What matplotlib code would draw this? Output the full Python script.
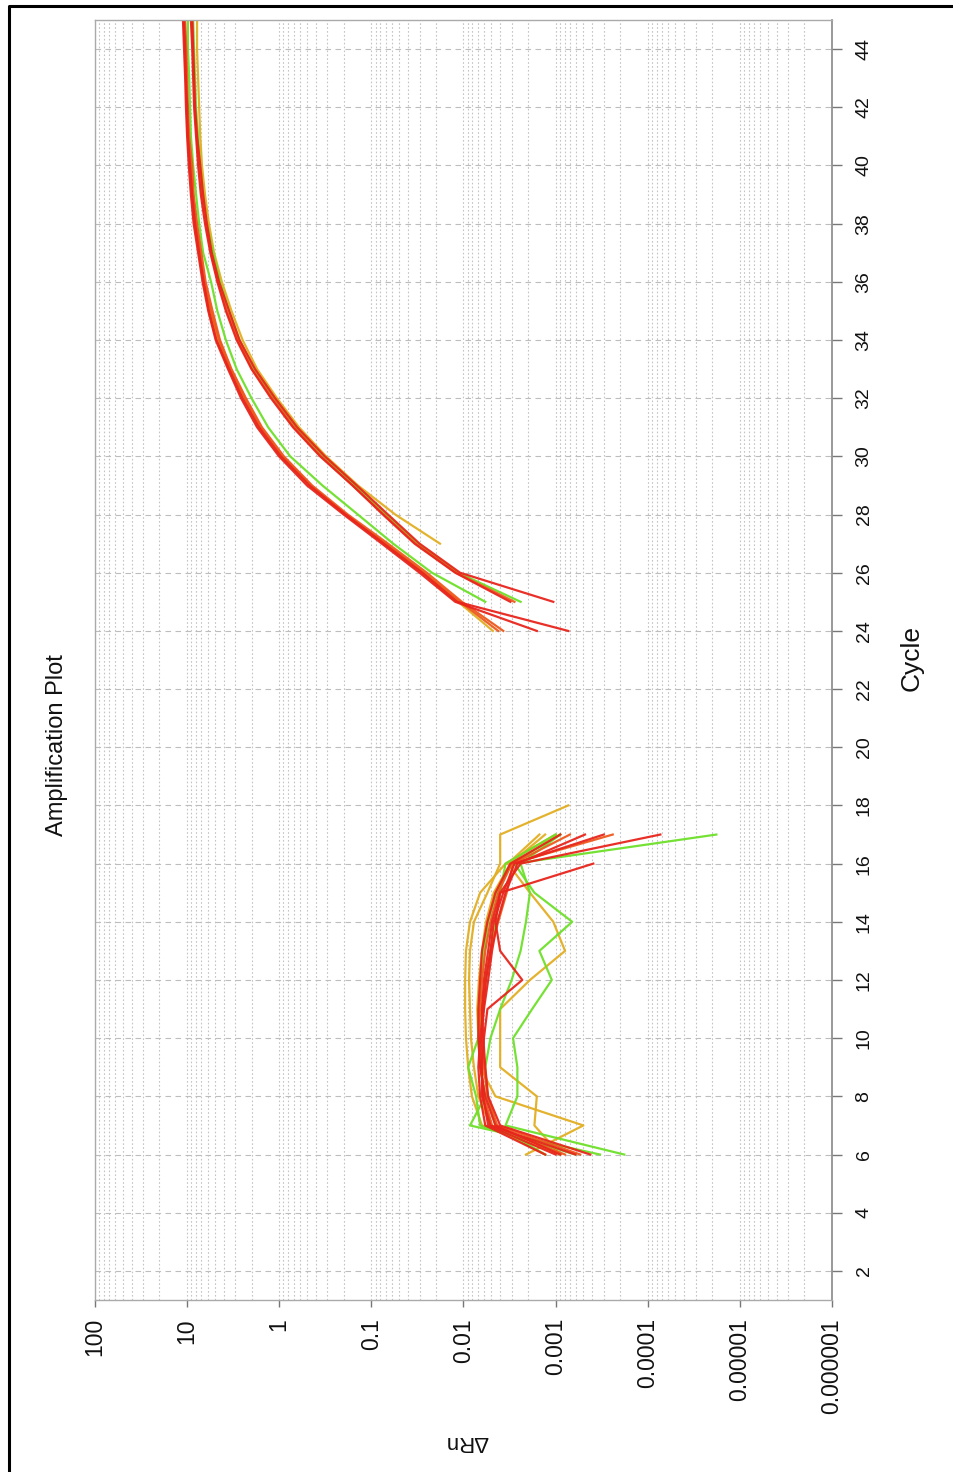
import matplotlib
matplotlib.use('Agg')
import matplotlib.pyplot as plt
from matplotlib.lines import Line2D
from matplotlib.ticker import FixedLocator, LogLocator, NullFormatter

# chart is drawn turned a quarter turn: cycle runs up the page, dRn runs right-to-left
FONT = ['Liberation Sans', 'DejaVu Sans']

YELLOW = '#e2ae22'
GREEN = '#6ee02a'
RED = '#e8251c'
ORANGE = '#ee5a1e'

# ---- early (background noise) curves, cycles 6..17 ----
early_cycles = list(range(6, 18))
early_cycles_18 = list(range(6, 19))
early_cycles_16 = list(range(6, 17))

early_yellow_1 = [0.00089, 0.0063, 0.0081, 0.0089, 0.0094, 0.0096, 0.0096, 0.0094, 0.0085, 0.0066, 0.0035, 0.0010]
early_yellow_2 = [0.0013, 0.0051, 0.0069, 0.0077, 0.0083, 0.0085, 0.0087, 0.0085, 0.0077, 0.0055, 0.0040, 0.0040, 0.00073]
early_yellow_3 = [0.00089, 0.0017, 0.0016, 0.0040, 0.0040, 0.0040, 0.0019, 0.00079, 0.00106, 0.0019, 0.0033, 0.0015]
early_yellow_4 = [0.0021, 0.00050, 0.0045, 0.0066, 0.0069, 0.0071, 0.0068, 0.0063, 0.0057, 0.0047, 0.0031, 0.0013]

early_green_1 = [0.00018, 0.0035, 0.0026, 0.0026, 0.0029, 0.0018, 0.0011, 0.0015, 0.00066, 0.0017, 0.0028, 0.000018]
early_green_2 = [0.00033, 0.0085, 0.0058, 0.0066, 0.0069, 0.0068, 0.0064, 0.0060, 0.0054, 0.0044, 0.0030, 0.00089]
early_green_3 = [0.00061, 0.0066, 0.0073, 0.0089, 0.0069, 0.0063, 0.0057, 0.0051, 0.0045, 0.0040, 0.0035, 0.0010]
early_green_4 = [0.0013, 0.0045, 0.0055, 0.0058, 0.0051, 0.0040, 0.0030, 0.0024, 0.0021, 0.0019, 0.0024, 0.00089]

early_red_1 = [0.00089, 0.0045, 0.0058, 0.0066, 0.0069, 0.0069, 0.0066, 0.0063, 0.0055, 0.0045, 0.0031, 0.00089]
early_red_2 = [0.00061, 0.0051, 0.0063, 0.0063, 0.0060, 0.0055, 0.0023, 0.0040, 0.0045, 0.0040, 0.0024, 0.000073]
early_red_3 = [0.00042, 0.0040, 0.0054, 0.0058, 0.0061, 0.0063, 0.0060, 0.0054, 0.0049, 0.0040, 0.00039]
early_red_4 = [0.0013, 0.0058, 0.0066, 0.0069, 0.0066, 0.0061, 0.0057, 0.0051, 0.0047, 0.0037, 0.0028, 0.00030]
early_orange_1 = [0.00079, 0.0049, 0.0060, 0.0064, 0.0068, 0.0066, 0.0063, 0.0058, 0.0051, 0.0042, 0.0030, 0.00024]
early_red_5 = [0.0010, 0.0054, 0.0061, 0.0064, 0.0064, 0.0060, 0.0054, 0.0049, 0.0043, 0.0035, 0.0026, 0.00048]
early_orange_2 = [0.00054, 0.0043, 0.0055, 0.0060, 0.0063, 0.0063, 0.0058, 0.0051, 0.0042, 0.0034, 0.0029, 0.00070]

# ---- amplification curves ----
late_cycles_24 = list(range(24, 46))
late_cycles_25 = list(range(25, 46))
late_cycles_27 = list(range(27, 46))

late_yellow_1 = [0.0048, 0.0114, 0.027, 0.071, 0.19, 0.46, 0.93, 1.62, 2.41, 3.4, 4.6, 5.6, 6.6, 7.4, 8.2, 8.8, 9.3, 9.8, 10.0, 10.3, 10.5, 10.8]
late_orange_1 = [0.0037, 0.0104, 0.025, 0.066, 0.18, 0.44, 0.89, 1.54, 2.3, 3.3, 4.4, 5.3, 6.3, 7.0, 7.8, 8.5, 8.8, 9.5, 9.8, 10.0, 10.2, 10.5]
late_red_1 = [0.0016, 0.0123, 0.030, 0.077, 0.20, 0.50, 1.005, 1.74, 2.6, 3.6, 4.9, 5.9, 6.8, 7.6, 8.5, 9.1, 9.6, 10.0, 10.3, 10.5, 10.8, 11.1]
late_red_2 = [0.00073, 0.0117, 0.028, 0.073, 0.19, 0.47, 0.96, 1.66, 2.5, 3.5, 4.8, 5.8, 6.6, 7.4, 8.2, 8.8, 9.3, 9.8, 10.0, 10.3, 10.5, 10.8]
late_orange_2 = [0.0042, 0.0109, 0.027, 0.069, 0.19, 0.45, 0.91, 1.58, 2.35, 3.35, 4.5, 5.5, 6.5, 7.2, 8.0, 8.6, 9.1, 9.8, 10.0, 10.3, 10.5, 10.8]

late_green_1 = [0.0058, 0.022, 0.058, 0.14, 0.34, 0.76, 1.32, 2.0, 2.9, 3.8, 4.7, 5.5, 6.7, 7.4, 8.0, 8.6, 9.1, 9.3, 9.5, 9.8, 9.8]
late_red_3 = [0.0031, 0.0123, 0.034, 0.075, 0.16, 0.36, 0.71, 1.23, 2.0, 2.9, 3.8, 4.7, 5.6, 6.4, 7.1, 7.6, 8.0, 8.4, 8.6, 8.8, 9.1]
late_green_2 = [0.0024, 0.0114, 0.031, 0.069, 0.15, 0.33, 0.66, 1.14, 1.88, 2.7, 3.5, 4.4, 5.2, 6.1, 6.7, 7.2, 7.6, 8.0, 8.2, 8.4, 8.6]
late_red_4 = [0.00106, 0.0109, 0.030, 0.066, 0.144, 0.32, 0.64, 1.11, 1.83, 2.7, 3.5, 4.5, 5.4, 6.1, 6.7, 7.2, 7.8, 8.2, 8.4, 8.6, 8.8]
late_orange_3 = [0.0028, 0.0120, 0.033, 0.073, 0.16, 0.35, 0.69, 1.19, 1.97, 2.8, 3.7, 4.6, 5.5, 6.2, 6.9, 7.4, 7.8, 8.2, 8.4, 8.6, 8.8]

late_yellow_2 = [0.018, 0.055, 0.14, 0.31, 0.61, 1.06, 1.74, 2.5, 3.3, 4.2, 5.1, 5.8, 6.4, 6.9, 7.2, 7.4, 7.6, 7.8, 7.8]

drn_ticks = [100, 10, 1, 0.1, 0.01, 0.001, 0.0001, 0.00001, 0.000001]
drn_labels = ['100', '10', '1', '0.1', '0.01', '0.001', '0.0001', '0.00001', '0.000001']
cycle_ticks = list(range(2, 46, 2))

curves = [
    (early_cycles, early_yellow_1, YELLOW), (early_cycles_18, early_yellow_2, YELLOW),
    (early_cycles, early_yellow_3, YELLOW), (early_cycles, early_yellow_4, YELLOW),
    (late_cycles_24, late_yellow_1, YELLOW), (late_cycles_27, late_yellow_2, YELLOW),
    (early_cycles, early_green_1, GREEN), (early_cycles, early_green_2, GREEN),
    (early_cycles, early_green_3, GREEN), (early_cycles, early_green_4, GREEN),
    (late_cycles_25, late_green_1, GREEN), (late_cycles_25, late_green_2, GREEN),
    (early_cycles, early_orange_1, ORANGE), (early_cycles, early_orange_2, ORANGE),
    (late_cycles_24, late_orange_1, ORANGE), (late_cycles_24, late_orange_2, ORANGE),
    (late_cycles_25, late_orange_3, ORANGE),
    (early_cycles, early_red_1, RED), (early_cycles, early_red_2, RED),
    (early_cycles_16, early_red_3, RED), (early_cycles, early_red_4, RED),
    (early_cycles, early_red_5, RED),
    (late_cycles_24, late_red_1, RED), (late_cycles_24, late_red_2, RED),
    (late_cycles_25, late_red_3, RED), (late_cycles_25, late_red_4, RED),
]

fig = plt.figure(figsize=(9.54, 14.72), dpi=100)
ax = fig.add_axes([95 / 954, 1 - 1300 / 1472, 737 / 954, 1280 / 1472])

for cyc, vals, col in curves:
    ax.plot(vals, cyc, color=col, lw=1.6, alpha=0.95, solid_joinstyle='round')

ax.set_xscale('log')
ax.set_xlim(100, 1e-6)
ax.set_ylim(1, 45)

ax.xaxis.set_major_locator(FixedLocator(drn_ticks))
ax.set_xticklabels(drn_labels, rotation=90, family=FONT, fontsize=16.5)
ax.xaxis.set_minor_locator(LogLocator(base=10, subs=range(2, 10), numticks=100))
ax.xaxis.set_minor_formatter(NullFormatter())

ax.yaxis.tick_right()
ax.set_yticks(cycle_ticks)
ax.set_yticklabels([str(c) for c in cycle_ticks], rotation=90, family=FONT, fontsize=14, va='center')

ax.tick_params(axis='x', which='major', direction='out', length=5, width=1, color='#777777', pad=8, labelcolor='#111111')
ax.tick_params(axis='x', which='minor', length=0)
ax.tick_params(axis='y', which='major', direction='out', length=7, width=1, color='#777777', pad=10, labelcolor='#111111')

ax.grid(which='major', axis='y', ls=(0, (5, 4)), color='#bdbdbd', lw=0.8)
ax.grid(which='both', axis='x', ls=(0, (1.5, 2)), color='#c4c4c4', lw=0.8)
ax.set_axisbelow(True)

for side in ['top', 'left', 'bottom']:
    ax.spines[side].set_color('#aaaaaa')
    ax.spines[side].set_linewidth(1)
ax.spines['right'].set_color('#888888')
ax.spines['right'].set_linewidth(1.2)

fig.text(57 / 954, 1 - 745 / 1472, 'Amplification Plot', rotation=90, ha='center', va='center',
         family=FONT, fontsize=17, color='#111111')
fig.text(912 / 954, 1 - 658 / 1472, 'Cycle', rotation=90, ha='center', va='center',
         family=FONT, fontsize=19, color='#111111')
fig.text(467 / 954, 1 - 1442 / 1472, 'ΔRn', rotation=180, ha='center', va='center',
         family=FONT, fontsize=16, color='#111111')

# outer black frame (cut off at the right and bottom edge)
fig.add_artist(Line2D([0.0094, 0.0094, 1.0], [0.0, 0.9962, 0.9962], transform=fig.transFigure,
                      color='black', lw=2.2))

fig.savefig('out.png', dpi=100)
